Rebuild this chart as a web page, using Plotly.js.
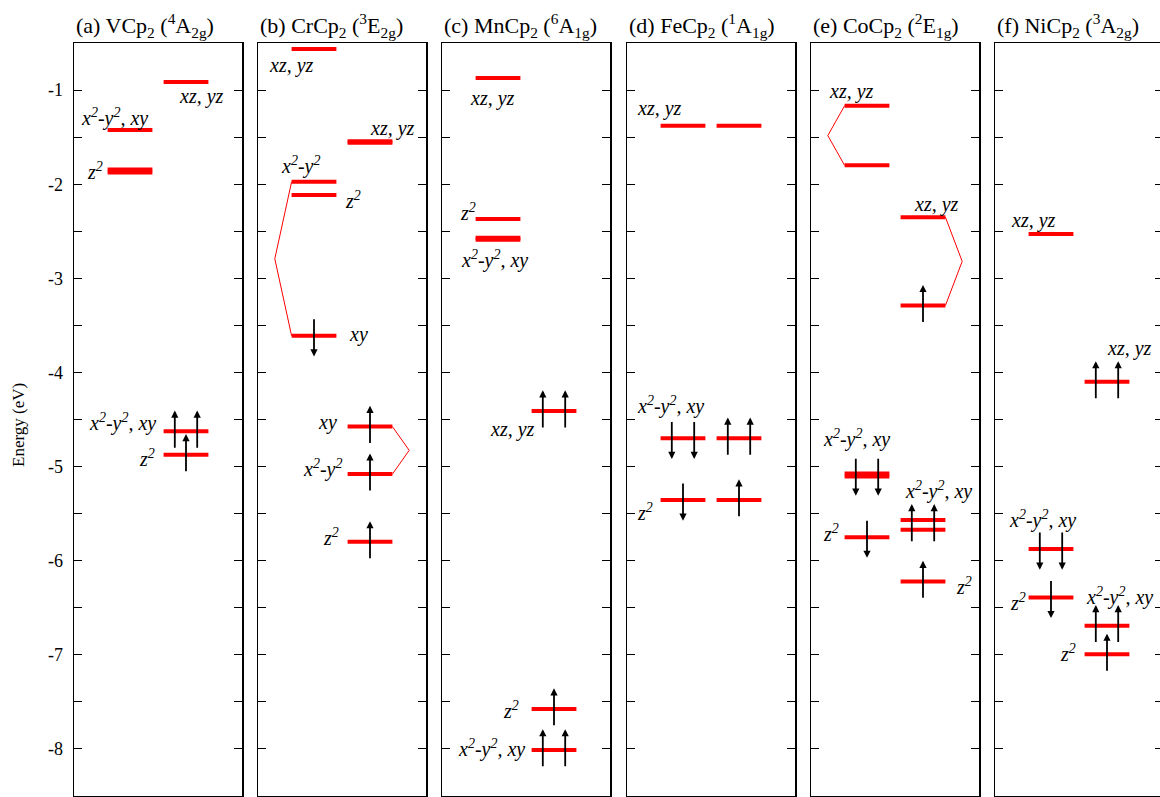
<!DOCTYPE html>
<html><head><meta charset="utf-8">
<script src="https://cdn.plot.ly/plotly-3.0.1.min.js"></script>
<style>html,body{margin:0;padding:0;overflow:hidden;background:#fff}</style>
</head><body><div id="chart" style="width:1164px;height:797px"></div>
<script>
// ---------------- DATA ----------------
const panelTitles = [
  '(a) VCp<sub>2</sub> (<sup>4</sup>A<sub>2g</sub>)',
  '(b) CrCp<sub>2</sub> (<sup>3</sup>E<sub>2g</sub>)',
  '(c) MnCp<sub>2</sub> (<sup>6</sup>A<sub>1g</sub>)',
  '(d) FeCp<sub>2</sub> (<sup>1</sup>A<sub>1g</sub>)',
  '(e) CoCp<sub>2</sub> (<sup>2</sup>E<sub>1g</sub>)',
  '(f) NiCp<sub>2</sub> (<sup>3</sup>A<sub>2g</sub>)'
];
// energy levels (eV); column 0 = left, 1 = right (spin channels)
const levelPanel  = [0,0,0,0,0, 1,1,1,1,1,1,1,1, 2,2,2,2,2,2, 3,3,3,3,3,3, 4,4,4,4,4,4,4,4, 5,5,5,5,5,5];
const levelColumn = [0,0,1,1,1, 0,1,0,0,0,1,1,1, 0,0,0,1,1,1, 0,1,0,1,0,1, 0,0,1,1,0,0,1,1, 0,1,0,0,1,1];
const levelEnergy = [-1.425,-1.845,-0.915,-4.625,-4.875,
                     -0.565,-1.545,-1.975,-2.115,-3.61,-4.575,-5.08,-5.80,
                     -0.873,-2.37,-2.57,-4.41,-7.575,-8.01,
                     -1.38,-1.38,-4.70,-4.70,-5.355,-5.355,
                     -1.167,-1.80,-2.35,-3.29,-5.075,-5.75,-5.568,-6.22,
                     -2.53,-4.10,-5.875,-6.39,-6.69,-6.995];
// second line of a nearly degenerate pair (null = single line)
const levelSplit  = [null,-1.875,null,null,null,
                     null,-1.56,null,null,null,null,null,null,
                     null,null,-2.59,null,null,null,
                     null,null,null,null,null,null,
                     null,null,null,null,-5.105,null,-5.67,null,
                     null,null,null,null,null,null];
// occupation: u = spin up, d = spin down
const levelSpins  = ['','','','uu','u',
                     '','','','','d','u','u','u',
                     '','','','uu','u','uu',
                     '','','dd','uu','d','u',
                     '','','','u','dd','d','uu','u',
                     '','uu','dd','d','uu','u'];
// connectors between split levels (level indices)
const connectorFrom = [7, 10, 25, 27];
const connectorTo   = [9, 11, 26, 28];
const connectorSide = ['left','right','left','right'];
// orbital labels
const X2Y2XY = 'x<sup>2</sup>-y<sup>2</sup>, xy';
const X2Y2 = 'x<sup>2</sup>-y<sup>2</sup>';
const Z2 = 'z<sup>2</sup>';
const XZYZ = 'xz, yz';
const labelPanel = [0,0,0,0,0, 1,1,1,1,1,1,1,1, 2,2,2,2,2,2, 3,3,3, 4,4,4,4,4,4, 5,5,5,5,5,5];
const labelText  = [X2Y2XY, Z2, XZYZ, X2Y2XY, Z2,
                    XZYZ, XZYZ, X2Y2, Z2, 'xy', 'xy', X2Y2, Z2,
                    XZYZ, Z2, X2Y2XY, XZYZ, Z2, X2Y2XY,
                    XZYZ, X2Y2XY, Z2,
                    XZYZ, XZYZ, X2Y2XY, Z2, X2Y2XY, Z2,
                    XZYZ, XZYZ, X2Y2XY, Z2, X2Y2XY, Z2];
const tickValues = [-8,-7.5,-7,-6.5,-6,-5.5,-5,-4.5,-4,-3.5,-3,-2.5,-2,-1.5,-1];
const tickLabels = ['-8','','-7','','-6','','-5','','-4','','-3','','-2','','-1'];

// ---------------- LAYOUT / STYLE ----------------
// label placement in panel coordinates: [x, y, xanchor]
const labelPlacement = [
  [1.357,-1.287,'right'],[0.554,-1.86,'right'],[2.714,-1.064,'right'],[1.50,-4.537,'right'],[1.477,-4.909,'right'],
  [0.155,-0.734,'left'],[2.833,-1.404,'right'],[0.375,-1.797,'left'],[1.513,-2.168,'left'],[1.589,-3.60,'left'],
  [1.452,-4.533,'right'],[1.541,-5.02,'right'],[1.477,-5.751,'right'],
  [0.464,-1.085,'left'],[0.648,-2.293,'right'],[0.309,-2.795,'left'],[1.696,-4.61,'right'],[1.405,-7.586,'right'],[1.512,-7.993,'right'],
  [0.143,-1.194,'left'],[0.143,-4.346,'left'],[0.143,-5.48,'left'],
  [0.28,-1.018,'left'],[1.798,-2.211,'left'],[0.173,-4.70,'left'],[0.173,-5.709,'left'],[1.648,-5.249,'left'],[2.552,-6.269,'left'],
  [0.255,-2.381,'left'],[1.964,-3.744,'left'],[0.209,-5.56,'left'],[0.238,-6.436,'left'],[1.591,-6.382,'left'],[1.488,-6.984,'right']
];
const PANEL_LEFT = [74, 258, 442, 627, 811, 995];
const PANEL_W = 168, ML = 74, PLOT_W = 1089, MT = 43, PLOT_H = 753;
const colCenter = [1, 2], halfW = 0.4, slot = 0.2, vertexOff = 0.3;
const FONT = 'Liberation Serif';

function refs(p){ const s = p === 0 ? '' : String(p+1); return {x:'x'+s, y:'y'+s, xa:'xaxis'+s, ya:'yaxis'+s}; }

const traces = [];
const annotations = [];
const layout = {
  width: 1164, height: 797,
  margin: {l: ML, r: 1, t: MT, b: 1},
  paper_bgcolor: '#fff', plot_bgcolor: '#fff',
  showlegend: false,
  font: {family: FONT, size: 18, color: '#000'},
  annotations: annotations
};

for (let p = 0; p < 6; p++) {
  const r = refs(p);
  const d0 = (PANEL_LEFT[p] - ML) / PLOT_W;
  const d1 = Math.min(1, (PANEL_LEFT[p] + PANEL_W - ML) / PLOT_W);
  layout[r.xa] = {domain: [d0, d1], range: [0, 3], anchor: r.y, showline: true, mirror: true,
    linecolor: '#000', linewidth: 1.5, ticks: '', showticklabels: false, showgrid: false, zeroline: false, fixedrange: true};
  layout[r.ya] = {domain: [0, 1], range: [-8.5, -0.5], anchor: r.x, showline: true, mirror: 'ticks',
    linecolor: '#000', linewidth: 1.5, ticks: 'inside', ticklen: 8, tickwidth: 1, tickcolor: '#000',
    tickmode: 'array', tickvals: tickValues, ticktext: tickLabels, showticklabels: p === 0,
    ticklabelstandoff: 6, tickfont: {family: FONT, size: 18, color: '#000'},
    showgrid: false, zeroline: false, fixedrange: true};

  // levels
  const xs = [], ys = [];
  for (let i = 0; i < levelEnergy.length; i++) {
    if (levelPanel[i] !== p) continue;
    const c = colCenter[levelColumn[i]];
    const es = [levelEnergy[i]];
    if (levelSplit[i] !== null) es.push(levelSplit[i]);
    es.forEach(e => { xs.push(c - halfW, c + halfW, null); ys.push(e, e, null); });
    // spin arrows
    const sp = levelSpins[i];
    if (sp.length) {
      const em = levelSplit[i] !== null ? (levelEnergy[i] + levelSplit[i]) / 2 : levelEnergy[i];
      const xpos = sp.length === 1 ? [c] : [c - slot, c + slot];
      for (let k = 0; k < sp.length; k++) {
        const up = sp[k] === 'u';
        annotations.push({x: xpos[k], y: up ? em + 0.22 : em - 0.22, ax: xpos[k], ay: up ? em - 0.19 : em + 0.19,
          xref: r.x, yref: r.y, axref: r.x, ayref: r.y, text: '', showarrow: true,
          arrowhead: 2, arrowsize: 0.8, arrowwidth: 1.8, arrowcolor: '#000', standoff: 0, startstandoff: 0});
      }
    }
  }
  traces.push({type: 'scatter', mode: 'lines', x: xs, y: ys, xaxis: r.x, yaxis: r.y,
    line: {color: '#ff0000', width: 4}, hoverinfo: 'skip', connectgaps: false});

  // connectors
  const cx = [], cy = [];
  for (let j = 0; j < connectorFrom.length; j++) {
    const a = connectorFrom[j], b = connectorTo[j];
    if (levelPanel[a] !== p) continue;
    const c = colCenter[levelColumn[a]];
    const x0 = connectorSide[j] === 'left' ? c - halfW : c + halfW;
    const vx = connectorSide[j] === 'left' ? x0 - vertexOff : x0 + vertexOff;
    const ea = levelEnergy[a], eb = levelEnergy[b];
    cx.push(x0, vx, x0, null); cy.push(ea, (ea + eb) / 2, eb, null);
  }
  if (cx.length) traces.push({type: 'scatter', mode: 'lines', x: cx, y: cy, xaxis: r.x, yaxis: r.y,
    line: {color: '#ff0000', width: 1}, hoverinfo: 'skip'});

  // title
  annotations.push({xref: 'paper', yref: 'paper', x: d0, y: 1 + (MT - 25) / PLOT_H, xanchor: 'left', yanchor: 'middle',
    text: panelTitles[p], showarrow: false, font: {family: FONT, size: 22, color: '#000'}});
}

// orbital labels
for (let i = 0; i < labelText.length; i++) {
  const r = refs(labelPanel[i]);
  const pl = labelPlacement[i];
  annotations.push({xref: r.x, yref: r.y, x: pl[0], y: pl[1], xanchor: pl[2], yanchor: 'middle',
    text: '<i>' + labelText[i] + '</i>', showarrow: false, font: {family: FONT, size: 20, style: 'italic', color: '#000'}});
}

// y axis title
annotations.push({xref: 'paper', yref: 'paper', x: (18 - ML) / PLOT_W, y: (PLOT_H + MT - 425) / PLOT_H,
  xanchor: 'center', yanchor: 'middle', textangle: -90, text: 'Energy (eV)', showarrow: false,
  font: {family: FONT, size: 17, color: '#000'}});

Plotly.newPlot('chart', traces, layout, {displayModeBar: false, staticPlot: true});
</script>
</body></html>
